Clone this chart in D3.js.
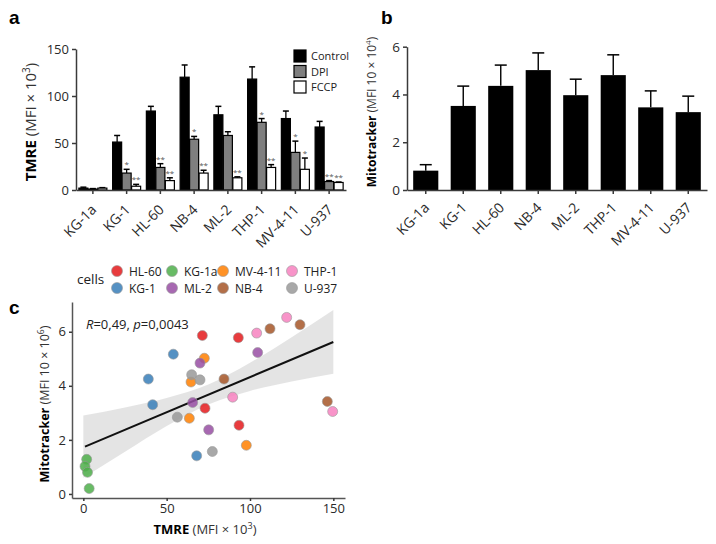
<!DOCTYPE html>
<html><head><meta charset="utf-8">
<script src="https://cdn.jsdelivr.net/npm/d3@7"></script>
<style>
body{margin:0;background:#fff;}
svg{font-family:"Open Sans",sans-serif;}
</style></head><body>
<svg id="c" width="716" height="544"></svg>
<script>
// ---------- DATA ----------
const cells = ["KG-1a","KG-1","HL-60","NB-4","ML-2","THP-1","MV-4-11","U-937"];
const treatments = ["Control","DPI","FCCP"];
// panel a: TMRE (MFI x 10^3)
const controlMean = [2, 51, 84, 120, 80, 118, 76, 67];
const controlErr  = [1, 7, 5, 13, 9, 13, 8, 6];
const dpiMean     = [1, 18, 24, 54, 58, 72, 40, 9];
const dpiErr      = [0.5, 4, 4, 3, 4, 4, 12, 1];
const fccpMean    = [2, 4, 10, 18, 13, 24, 22, 8];
const fccpErr     = [0.5, 2, 3, 3, 1, 3, 12, 0.5];
const dpiStars    = ["", "*", "**", "*", "", "*", "*", "**"];
const fccpStars   = ["", "**", "**", "**", "**", "**", "*", "**"];
const aTicks = [0, 50, 100, 150];
// panel b: Mitotracker (MFI 10 x 10^4)
const mitoMean = [0.81, 3.52, 4.36, 5.02, 3.97, 4.81, 3.46, 3.26];
const mitoErr  = [0.25, 0.83, 0.87, 0.72, 0.67, 0.85, 0.69, 0.67];
const bTicks = [0, 2, 4, 6];
// panel c: scatter
const legendCells = ["HL-60","KG-1","KG-1a","ML-2","MV-4-11","NB-4","THP-1","U-937"];
const legendColors = ["#e41a1c","#377eb8","#4daf4a","#984ea3","#ff7f00","#a65628","#f781bf","#999999"];
const ptCell = ["KG-1a","KG-1a","KG-1a","KG-1a",
  "KG-1","KG-1","KG-1","KG-1",
  "HL-60","HL-60","HL-60","HL-60",
  "MV-4-11","MV-4-11","MV-4-11","MV-4-11",
  "ML-2","ML-2","ML-2","ML-2",
  "NB-4","NB-4","NB-4","NB-4",
  "THP-1","THP-1","THP-1","THP-1",
  "U-937","U-937","U-937","U-937"];
const ptTMRE = [2, 1, 2.5, 3.5,
  54, 39, 41.6, 68,
  71.4, 93, 73, 93.4,
  72.6, 64.6, 63.6, 97.8,
  70, 104.6, 65.6, 75.2,
  112, 130, 84.4, 146.4,
  122, 104, 89.6, 149.6,
  65, 70, 56.4, 77.4];
const ptMito = [1.28, 1.02, 0.8, 0.2,
  5.17, 4.25, 3.3, 1.41,
  5.86, 5.78, 3.17, 2.54,
  5.02, 4.14, 2.8, 1.8,
  4.84, 5.23, 3.38, 2.37,
  6.11, 6.26, 4.25, 3.42,
  6.53, 5.95, 3.58, 3.05,
  4.41, 4.22, 2.84, 1.57];
const fitX = [1, 150];
const fitY = [1.75, 5.62];
const bandX  = [0, 25, 50, 75, 100, 125, 150];
const bandLo = [0.6, 1.56, 2.51, 3.31, 3.81, 4.16, 4.45];
const bandHi = [2.9, 3.2, 3.55, 4.05, 4.85, 5.8, 6.8];
const cXTicks = [0, 50, 100, 150];
const cYTicks = [0, 2, 4, 6];

// ---------- DRAW ----------
const svg = d3.select("#c");
const axisCol = "#3a3a3a", tickTxt = "#2a2a2a";

function styleAxis(g, fs){
  g.selectAll("path,line").attr("stroke", axisCol).attr("stroke-width", 1.5);
  g.selectAll("text").attr("fill", tickTxt).style("font-size", fs + "px").style("font-family","Open Sans");
}

// ---- Panel a ----
svg.append("text").attr("x", 9).attr("y", 24).text("a")
  .style("font-weight","bold").style("font-size","19px").style("font-family","Liberation Sans");
const ax = d3.scaleBand().domain(cells).range([76, 346]).paddingInner(0.17).paddingOuter(0.085);
const ay = d3.scaleLinear().domain([0, 150]).range([190, 49]);
const sub = d3.scaleBand().domain(treatments).range([0, ax.bandwidth()]).paddingInner(0.05);
const fills = {Control:"#000", DPI:"#7f7f7f", FCCP:"#fff"};
const aSeries = {Control:[controlMean, controlErr, null], DPI:[dpiMean, dpiErr, dpiStars], FCCP:[fccpMean, fccpErr, fccpStars]};
const ga = svg.append("g");
treatments.forEach(t => {
  const [m, e, s] = aSeries[t];
  cells.forEach((c, i) => {
    const x0 = ax(c) + sub(t), w = sub.bandwidth();
    const top = ay(m[i] + e[i]);
    ga.append("line").attr("x1", x0 + w/2).attr("x2", x0 + w/2)
      .attr("y1", ay(m[i])).attr("y2", top).attr("stroke", "#000").attr("stroke-width", 1.3);
    ga.append("line").attr("x1", x0 + w/2 - 3).attr("x2", x0 + w/2 + 3)
      .attr("y1", top).attr("y2", top).attr("stroke", "#000").attr("stroke-width", 1.5);
    ga.append("rect").attr("x", x0).attr("y", ay(m[i])).attr("width", w)
      .attr("height", ay(0) - ay(m[i])).attr("fill", fills[t]).attr("stroke", "#000").attr("stroke-width", 1.2);
    if (s && s[i]) {
      ga.append("text").attr("x", x0 + w/2).attr("y", top - 2).attr("text-anchor","middle")
        .style("font-size","8px").attr("fill","#555").text(s[i]);
    }
  });
});
const gay = svg.append("g").attr("transform","translate(76,0)").call(d3.axisLeft(ay).tickValues(aTicks).tickFormat(d3.format("d")).tickSize(4).tickSizeOuter(0));
styleAxis(gay, 13);
const gax = svg.append("g").attr("transform","translate(0,190)").call(d3.axisBottom(ax).tickSize(4).tickSizeOuter(0));
styleAxis(gax, 14);
gax.selectAll("text").attr("x",0).attr("y",0).attr("text-anchor","end").attr("dy","0.35em")
  .attr("transform","translate(1,17) rotate(-45)");
const aTitle = svg.append("text").attr("transform","translate(36,122) rotate(-90)").attr("text-anchor","middle").style("font-size","15px");
aTitle.append("tspan").style("font-weight","bold").text("TMRE");
aTitle.append("tspan").attr("fill","#333").text(" (MFI × 10");
aTitle.append("tspan").attr("fill","#333").attr("dy","-6").style("font-size","10px").text("3");
aTitle.append("tspan").attr("fill","#333").attr("dy","6").text(")");
// legend a
treatments.forEach((t, i) => {
  const y = 50 + i * 15.5;
  svg.append("rect").attr("x", 294).attr("y", y).attr("width", 12).attr("height", 12)
    .attr("fill", fills[t]).attr("stroke","#000").attr("stroke-width",1.2);
  svg.append("text").attr("x", 311).attr("y", y + 10).style("font-size","11px").attr("fill","#222").text(t);
});

// ---- Panel b ----
svg.append("text").attr("x", 381).attr("y", 24).text("b")
  .style("font-weight","bold").style("font-size","19px").style("font-family","Liberation Sans");
const bx = d3.scaleBand().domain(cells).range([407, 707]).paddingInner(0.33).paddingOuter(0.165);
const by = d3.scaleLinear().domain([0, 6]).range([190, 46.7]);
const gb = svg.append("g");
cells.forEach((c, i) => {
  const x0 = bx(c), w = bx.bandwidth(), top = by(mitoMean[i] + mitoErr[i]);
  gb.append("line").attr("x1", x0 + w/2).attr("x2", x0 + w/2).attr("y1", by(mitoMean[i])).attr("y2", top)
    .attr("stroke","#000").attr("stroke-width",1.4);
  gb.append("line").attr("x1", x0 + w/2 - 6).attr("x2", x0 + w/2 + 6).attr("y1", top).attr("y2", top)
    .attr("stroke","#000").attr("stroke-width",1.5);
  gb.append("rect").attr("x", x0).attr("y", by(mitoMean[i])).attr("width", w)
    .attr("height", by(0) - by(mitoMean[i])).attr("fill","#000");
});
const gby = svg.append("g").attr("transform","translate(407,0)").call(d3.axisLeft(by).tickValues(bTicks).tickFormat(d3.format("d")).tickSize(4).tickSizeOuter(0));
styleAxis(gby, 13.5);
const gbx = svg.append("g").attr("transform","translate(0,190)").call(d3.axisBottom(bx).tickSize(4).tickSizeOuter(0));
styleAxis(gbx, 14);
gbx.selectAll("text").attr("x",0).attr("y",0).attr("text-anchor","end").attr("dy","0.35em")
  .attr("transform","translate(1,15) rotate(-45)");
const bTitle = svg.append("text").attr("transform","translate(376,112) rotate(-90)").attr("text-anchor","middle").style("font-size","12px");
bTitle.append("tspan").style("font-weight","bold").text("Mitotracker");
bTitle.append("tspan").attr("fill","#333").text(" (MFI 10 × 10");
bTitle.append("tspan").attr("fill","#333").attr("dy","-5").style("font-size","8px").text("4");
bTitle.append("tspan").attr("fill","#333").attr("dy","5").text(")");

// ---- Panel c ----
svg.append("text").attr("x", 9).attr("y", 314).text("c")
  .style("font-weight","bold").style("font-size","19px").style("font-family","Liberation Sans");
const cx = d3.scaleLinear().domain([-6.8, 157]).range([72, 345]);
const cy = d3.scaleLinear().domain([-0.15, 7.1]).range([498, 302]);
const color = d3.scaleOrdinal().domain(legendCells).range(legendColors);
// band
const bandData = bandX.map((x, i) => ({x, lo: bandLo[i], hi: bandHi[i]}));
svg.append("path").datum(bandData)
  .attr("d", d3.area().x(d => cx(d.x)).y0(d => cy(d.lo)).y1(d => cy(d.hi)).curve(d3.curveMonotoneX))
  .attr("fill","#d9d9d9").attr("opacity",0.7);
// fit line
svg.append("line").attr("x1", cx(fitX[0])).attr("x2", cx(fitX[1])).attr("y1", cy(fitY[0])).attr("y2", cy(fitY[1]))
  .attr("stroke","#111").attr("stroke-width",2);
// points
svg.append("g").selectAll("circle").data(ptTMRE.map((x, i) => ({x, y: ptMito[i], c: ptCell[i]})))
  .join("circle").attr("cx", d => cx(d.x)).attr("cy", d => cy(d.y)).attr("r", 5)
  .attr("fill", d => color(d.c)).attr("fill-opacity", 0.85)
  .attr("stroke","#9a9a9a").attr("stroke-opacity",0.6).attr("stroke-width",1);
const gcx = svg.append("g").attr("transform","translate(0,498)").call(d3.axisBottom(cx).tickValues(cXTicks).tickSize(3).tickSizeOuter(0));
styleAxis(gcx, 13);
gcx.select(".domain").attr("stroke","#555");
const gcy = svg.append("g").attr("transform","translate(72,0)").call(d3.axisLeft(cy).tickValues(cYTicks).tickSize(3).tickSizeOuter(0));
styleAxis(gcy, 13);
gcy.select(".domain").attr("stroke","#555");
// titles
const cxT = svg.append("text").attr("x", 205).attr("y", 534).attr("text-anchor","middle").style("font-size","13px");
cxT.append("tspan").style("font-weight","bold").text("TMRE");
cxT.append("tspan").attr("fill","#333").text(" (MFI × 10");
cxT.append("tspan").attr("fill","#333").attr("dy","-5").style("font-size","9px").text("3");
cxT.append("tspan").attr("fill","#333").attr("dy","5").text(")");
const cyT = svg.append("text").attr("transform","translate(49,404) rotate(-90)").attr("text-anchor","middle").style("font-size","12.5px");
cyT.append("tspan").style("font-weight","bold").text("Mitotracker");
cyT.append("tspan").attr("fill","#333").text(" (MFI 10 × 10");
cyT.append("tspan").attr("fill","#333").attr("dy","-5").style("font-size","8.5px").text("6");
cyT.append("tspan").attr("fill","#333").attr("dy","5").text(")");
// R text
const rT = svg.append("text").attr("x", 86).attr("y", 329).style("font-size","13px").attr("fill","#222");
rT.append("tspan").style("font-style","italic").text("R");
rT.append("tspan").text("=0,49, ");
rT.append("tspan").style("font-style","italic").text("p");
rT.append("tspan").text("=0,0043");
// legend c
svg.append("text").attr("x", 77).attr("y", 284).style("font-size","13.5px").attr("fill","#222").text("cells");
const colX = [117, 172, 223, 292];
legendCells.forEach((c, i) => {
  const col = Math.floor(i / 2), row = i % 2;
  const x = colX[col], y = 271 + row * 17;
  svg.append("circle").attr("cx", x).attr("cy", y).attr("r", 5.5).attr("fill", color(c)).attr("fill-opacity",0.85)
    .attr("stroke","#9a9a9a").attr("stroke-opacity",0.6);
  svg.append("text").attr("x", x + 12).attr("y", y + 4.5).style("font-size","12px").attr("fill","#222").text(c);
});
</script></body></html>
